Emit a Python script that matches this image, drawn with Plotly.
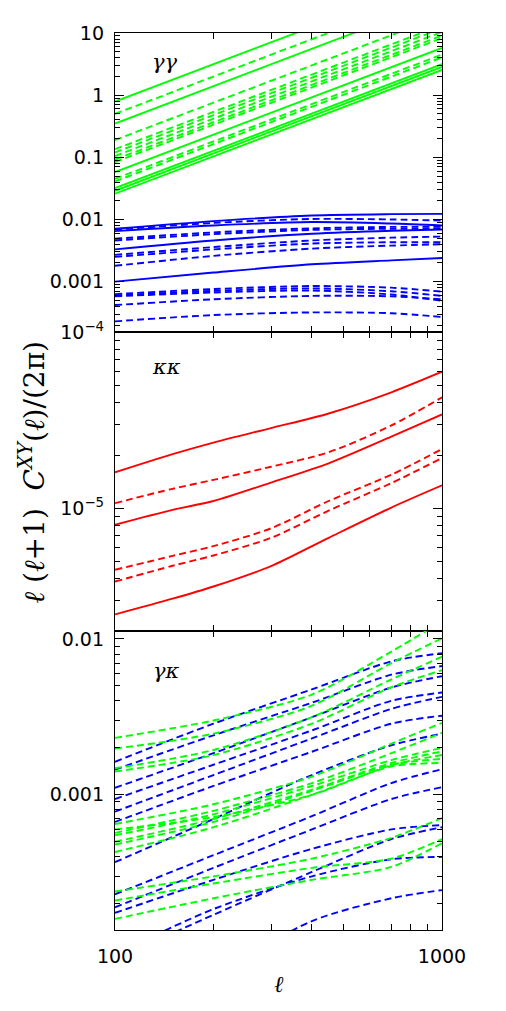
import plotly.graph_objects as go
from plotly.subplots import make_subplots

# ---------------- data ----------------
ell_gg_green = [100, 1000]
gg_green_solid = [[0.79, 78.0], [0.35, 34.7], [0.058, 5.75], [0.032, 3.15], [0.029, 2.85], [0.026, 2.55]]
gg_green_dashed = [[0.50, 49.5], [0.19, 18.8], [0.135, 13.4], [0.12, 11.9], [0.105, 10.4],
                   [0.092, 9.1], [0.084, 8.3], [0.045, 4.5], [0.041, 4.05]]

ell_curve = [100, 200, 400, 700, 1000]
gg_blue_solid = [
    [0.0071, 0.0094, 0.0116, 0.0122, 0.0123],
    [0.0065, 0.0080, 0.0091, 0.0086, 0.0080],
    [0.0033, 0.0046, 0.0059, 0.0066, 0.0069],
    [0.0010, 0.0014, 0.0019, 0.0022, 0.0024],
]
gg_blue_dashed = [
    [0.0069, 0.0088, 0.0102, 0.0100, 0.0096],
    [0.0049, 0.0062, 0.0072, 0.0076, 0.0076],
    [0.0046, 0.0058, 0.0068, 0.0071, 0.0071],
    [0.0027, 0.0036, 0.0046, 0.0051, 0.0053],
    [0.0025, 0.0033, 0.0041, 0.0043, 0.0043],
    [0.0018, 0.0026, 0.0034, 0.0038, 0.0040],
    [0.00063, 0.00076, 0.00085, 0.00080, 0.00069],
    [0.00060, 0.00071, 0.00078, 0.00070, 0.00059],
    [0.00058, 0.00067, 0.00072, 0.00062, 0.00049],
    [0.00042, 0.00052, 0.00059, 0.00058, 0.00052],
    [0.00023, 0.00029, 0.00032, 0.00031, 0.00027],
]

ell_kk = [100, 150, 200, 300, 450, 700, 1000]
kk_red_solid = [
    [1.60e-5, 2.03e-5, 2.36e-5, 2.85e-5, 3.45e-5, 4.55e-5, 5.95e-5],
    [8.07e-6, 9.8e-6, 1.10e-5, 1.40e-5, 1.80e-5, 2.55e-5, 3.41e-5],
    [2.50e-6, 3.07e-6, 3.6e-6, 4.7e-6, 6.8e-6, 1.01e-5, 1.35e-5],
]
kk_red_dashed = [
    [1.07e-5, 1.29e-5, 1.45e-5, 1.72e-5, 2.08e-5, 2.95e-5, 4.26e-5],
    [4.48e-6, 5.37e-6, 6.1e-6, 7.7e-6, 1.10e-5, 1.55e-5, 2.17e-5],
    [3.84e-6, 4.72e-6, 5.4e-6, 6.8e-6, 9.7e-6, 1.39e-5, 1.93e-5],
]

gk_blue_dashed = [
    [0.00163, 0.00286, 0.00475, 0.00718, 0.0081],
    [0.00145, 0.00241, 0.0039, 0.0059, 0.0067],
    [0.00111, 0.00185, 0.00315, 0.00488, 0.00577],
    [0.00094, 0.00156, 0.00259, 0.00401, 0.00453],
    [0.00078, 0.00134, 0.0023, 0.00356, 0.00425],
    [0.00067, 0.00114, 0.00189, 0.00286, 0.00322],
    [0.00037, 0.0007, 0.00134, 0.00208, 0.00247],
    [0.00023, 0.00041, 0.00073, 0.00119, 0.00146],
    [0.00019, 0.00034, 0.0006, 0.00094, 0.00112],
    [0.000175, 0.000285, 0.00045, 0.0006, 0.00064],
    [0.000095, 0.000185, 0.0003, 0.000386, 0.0004],
    [0.000088, 0.00017, 0.00032, 0.00052, 0.00062],
    [0.000035, 0.00007, 0.000155, 0.000217, 0.000245],
]
gk_green_dashed = [
    [0.00232, 0.0030, 0.0044, 0.0083, 0.013],
    [0.00198, 0.00247, 0.00373, 0.0070, 0.0101],
    [0.00148, 0.00194, 0.00315, 0.0055, 0.0077],
    [0.00141, 0.0018, 0.00286, 0.0049, 0.0063],
    [0.00065, 0.00087, 0.00131, 0.00213, 0.0029],
    [0.00057, 0.00079, 0.00119, 0.00185, 0.0025],
    [0.00055, 0.00075, 0.00114, 0.00167, 0.0020],
    [0.00050, 0.0007, 0.00108, 0.0016, 0.0019],
    [0.00048, 0.00067, 0.00106, 0.00156, 0.0017],
    [0.00043, 0.00062, 0.0010, 0.00152, 0.0016],
    [0.00060, 0.00072, 0.0010, 0.00155, 0.0018],
    [0.00021, 0.00027, 0.00034, 0.00039, 0.00052],
    [0.00016, 0.000217, 0.000285, 0.000345, 0.00049],
    [0.00024, 0.00030, 0.00039, 0.00053, 0.00071],
]

x_ticks = [100, 1000]
x_ticktext = ["100", "1000"]
x_minor = [200, 300, 400, 500, 600, 700, 800, 900]
top_ticks = [10, 1, 0.1, 0.01, 0.001]
top_ticktext = ["10", "1", "0.1", "0.01", "0.001"]
mid_ticks = [1e-4, 1e-5]
mid_ticktext = ["10<sup>\u22124</sup>", "10<sup>\u22125</sup>"]
bot_ticks = [0.01, 0.001]
bot_ticktext = ["0.01", "0.001"]

GREEN = "#00ff00"
BLUE = "#0000ff"
RED = "#ff0000"
DASH = "7px,4px"
LW = 1.9

fig = make_subplots(rows=3, cols=1, shared_xaxes=True, vertical_spacing=0)


def add(x, ys, color, dash, row, shape="linear"):
    for y in ys:
        fig.add_trace(go.Scatter(x=x, y=y, mode="lines", showlegend=False,
                                 line=dict(color=color, width=LW, dash=dash, shape=shape,
                                           smoothing=0.8)),
                      row=row, col=1)


add(ell_gg_green, gg_green_solid, GREEN, "solid", 1)
add(ell_gg_green, gg_green_dashed, GREEN, DASH, 1)
add(ell_curve, gg_blue_solid, BLUE, "solid", 1, "spline")
add(ell_curve, gg_blue_dashed, BLUE, DASH, 1, "spline")
add(ell_kk, kk_red_solid, RED, "solid", 2, "spline")
add(ell_kk, kk_red_dashed, RED, DASH, 2, "spline")
add(ell_curve, gk_blue_dashed, BLUE, DASH, 3, "spline")
add(ell_curve, gk_green_dashed, GREEN, DASH, 3, "spline")

tickfont = dict(family="DejaVu Sans", size=19, color="black")


def minor_log(lo, hi):
    vals = []
    for e in range(lo, hi):
        for m in range(2, 10):
            vals.append(m * 10.0 ** e)
    return vals


for r in (1, 2, 3):
    fig.update_xaxes(type="log", range=[2, 3], tickvals=x_ticks, ticktext=x_ticktext,
                     ticks="inside", ticklen=8, tickwidth=1.2, tickcolor="black",
                     showline=True, linecolor="black", linewidth=1.3, mirror="ticks",
                     showgrid=False, zeroline=False, tickfont=tickfont,
                     showticklabels=(r == 3), ticklabelstandoff=9,
                     minor=dict(tickvals=x_minor, ticks="inside", ticklen=6, tickwidth=1.2,
                                tickcolor="black", showgrid=False),
                     row=r, col=1)

yaxis_common = dict(type="log", ticks="inside", ticklen=9, tickwidth=1.2, tickcolor="black",
                    showline=True, linecolor="black", linewidth=1.3, mirror="ticks",
                    showgrid=False, zeroline=False, tickfont=tickfont, ticklabelstandoff=6)

fig.update_yaxes(range=[-3.81, 1.0], tickvals=top_ticks, ticktext=top_ticktext,
                 minor=dict(tickvals=minor_log(-4, 1), ticks="inside", ticklen=5, tickwidth=1.2,
                            tickcolor="black", showgrid=False),
                 row=1, col=1, **yaxis_common)
fig.update_yaxes(range=[-5.696, -4.0], tickvals=mid_ticks, ticktext=mid_ticktext,
                 minor=dict(tickvals=minor_log(-6, -4), ticks="inside", ticklen=5, tickwidth=1.2,
                            tickcolor="black", showgrid=False),
                 row=2, col=1, **yaxis_common)
fig.update_yaxes(range=[-3.867, -1.949], tickvals=bot_ticks, ticktext=bot_ticktext,
                 minor=dict(tickvals=minor_log(-4, -1), ticks="inside", ticklen=5, tickwidth=1.2,
                            tickcolor="black", showgrid=False),
                 row=3, col=1, **yaxis_common)

lab_font = dict(family="DejaVu Serif", size=21, color="black")
for txt, px, py in [("<i>\u03b3\u03b3</i>", 0.153, 0.968),
                    ("<i>\u03ba\u03ba</i>", 0.156, 0.6275),
                    ("<i>\u03b3\u03ba</i>", 0.159, 0.289)]:
    fig.add_annotation(text=txt, xref="paper", yref="paper", x=px, y=py,
                       xanchor="center", yanchor="middle", showarrow=False, font=lab_font)

fig.add_annotation(text="<i>\u2113</i> (<i>\u2113</i>+1)  <i>C</i><sup><i>XY</i></sup>(<i>\u2113</i>)/(2\u03c0)",
                   xref="paper", yref="paper", x=-0.251, y=0.511, textangle=-90,
                   xanchor="center", yanchor="middle",
                   showarrow=False, font=dict(family="DejaVu Serif", size=28, color="black"))
fig.add_annotation(text="<i>\u2113</i>", xref="paper", yref="paper", x=0.5, y=-0.0604,
                   xanchor="center", yanchor="middle",
                   showarrow=False, font=dict(family="DejaVu Serif", size=23, color="black"))

# page body has an 8px margin, so the figure is shrunk and offset accordingly
fig.update_layout(width=490, height=995, plot_bgcolor="white", paper_bgcolor="white",
                  margin=dict(l=107, r=56, t=12, b=73), showlegend=False)

fig.write_html("out.html")
